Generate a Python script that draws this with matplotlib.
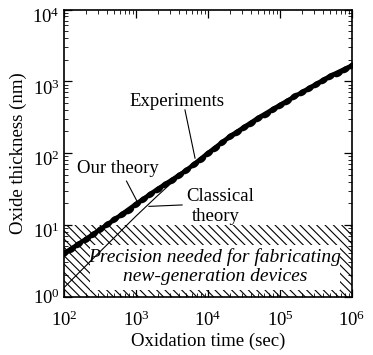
import matplotlib
matplotlib.use('Agg')
import matplotlib.pyplot as plt
from matplotlib.patches import Rectangle
from matplotlib.ticker import LogLocator, NullFormatter
from matplotlib.markers import MarkerStyle
from matplotlib.transforms import Affine2D, ScaledTranslation

# ---- data ----
theory_time = [100, 200, 300, 500, 1000, 2000, 3000, 5000, 1e4, 2e4, 5e4, 1e5, 2e5, 5e5, 1e6]
theory_thick = [4.0, 6.3, 8.3, 11.8, 19.5, 31.6, 41, 57.5, 100, 170, 310, 468, 700, 1190, 1660]

classical_time = [100, 300, 1000, 2000, 3000, 5000, 1e4, 1e5, 1e6]
classical_thick = [1.33, 4.0, 13.2, 25.5, 37, 56, 98, 465, 1650]

exp_time = [100, 126, 158, 200, 251, 316, 398, 501, 631, 794,
            1000, 1259, 1585, 1995, 2512, 3162, 3981, 5012, 6310, 7943,
            1e4, 12589, 15849, 19953, 25119, 31623, 39811, 50119, 63096, 79433,
            1e5, 125893, 158489, 199526, 251189, 316228, 398107, 501187, 630957, 794328,
            1e6]
exp_thick = [3.98, 4.65, 5.42, 6.32, 7.38, 8.65, 10.1, 11.9, 13.9, 16.3,
             19.5, 22.9, 26.9, 31.6, 36.7, 42.7, 49.5, 57.5, 69.2, 83.2,
             100, 119, 142, 170, 197, 229, 266, 309, 355, 407,
             468, 537, 617, 708, 804, 912, 1035, 1175, 1318, 1479,
             1660]

band_low, band_high = 1, 10
x_limits = (1e2, 1e6)
y_limits = (1e0, 1e4)

plt.rcParams['font.family'] = ['Liberation Serif', 'DejaVu Serif']
plt.rcParams['mathtext.fontset'] = 'custom'
plt.rcParams['mathtext.rm'] = 'Liberation Serif'
plt.rcParams['mathtext.it'] = 'Liberation Serif:italic'
plt.rcParams['hatch.linewidth'] = 0.8

fig = plt.figure(figsize=(3.73, 3.55), dpi=100)
ax = fig.add_axes([64 / 373, 58.5 / 355, 288 / 373, 287 / 355])
ax.set_xscale('log')
ax.set_yscale('log')
ax.set_xlim(*x_limits)
ax.set_ylim(*y_limits)

# hatched precision band
ax.add_patch(Rectangle((x_limits[0], band_low), x_limits[1] - x_limits[0], band_high - band_low,
                       facecolor='white', edgecolor='black', hatch='\\\\\\\\', lw=0, zorder=1))
# white box for text
ax.add_patch(Rectangle((0.09, 0.023), 0.868, 0.156, transform=ax.transAxes,
                       facecolor='white', edgecolor='none', zorder=2))

ax.plot(classical_time, classical_thick, color='black', lw=0.8, zorder=3)
ax.plot(theory_time, theory_thick, color='black', lw=3.1, zorder=4)
oval = MarkerStyle('o', transform=Affine2D().scale(1.7, 1.0).rotate_deg(33))
ax.plot(exp_time, exp_thick, linestyle='none', marker=oval, color='black', ms=4.4, mew=0, zorder=5)

# annotations (axes fraction coordinates)
ax.text(0.391, 0.68, 'Experiments', transform=ax.transAxes, ha='center', va='center', fontsize=13.5, zorder=6)
ax.plot([0.420, 0.455], [0.650, 0.482], transform=ax.transAxes, color='black', lw=0.8, zorder=6)

ax.text(0.187, 0.447, 'Our theory', transform=ax.transAxes, ha='center', va='center', fontsize=13.5, zorder=6)
ax.plot([0.217, 0.253], [0.402, 0.333], transform=ax.transAxes, color='black', lw=0.8, zorder=6)

ax.text(0.542, 0.348, 'Classical', transform=ax.transAxes, ha='center', va='center', fontsize=13.5, zorder=6)
ax.text(0.528, 0.278, 'theory', transform=ax.transAxes, ha='center', va='center', fontsize=13.5, zorder=6)
ax.plot([0.410, 0.295], [0.319, 0.314], transform=ax.transAxes, color='black', lw=0.8, zorder=6)

ax.text(0.524, 0.138, 'Precision needed for fabricating', transform=ax.transAxes, ha='center', va='center',
        fontsize=14, style='italic', zorder=6)
ax.text(0.524, 0.068, 'new-generation devices', transform=ax.transAxes, ha='center', va='center',
        fontsize=14, style='italic', zorder=6)

ax.set_xlabel('Oxidation time (sec)', fontsize=13.5, labelpad=2)
ax.set_ylabel('Oxide thickness (nm)', fontsize=13.5, labelpad=4)

ax.xaxis.set_major_locator(LogLocator(base=10, numticks=10))
ax.yaxis.set_major_locator(LogLocator(base=10, numticks=10))
ax.xaxis.set_minor_locator(LogLocator(base=10, subs=range(2, 10), numticks=20))
ax.yaxis.set_minor_locator(LogLocator(base=10, subs=range(2, 10), numticks=20))
ax.xaxis.set_minor_formatter(NullFormatter())
ax.yaxis.set_minor_formatter(NullFormatter())

ax.tick_params(which='both', direction='in', top=True, right=True)
ax.tick_params(which='major', length=6, width=0.9, labelsize=13.5)
ax.tick_params(axis='x', which='major', pad=10)
ax.tick_params(axis='y', which='major', pad=3)
ax.tick_params(which='minor', length=3, width=0.6)
for s in ax.spines.values():
    s.set_linewidth(1.2)

# y tick labels sit slightly below their ticks in the reference (except the bottom one)
shift = ScaledTranslation(0, -4 / 72, fig.dpi_scale_trans)
ylocs = ax.yaxis.get_majorticklocs()
for loc, tk in zip(ylocs, ax.yaxis.get_major_ticks(len(ylocs))):
    if loc > 1.5:
        tk.label1.set_transform(tk.label1.get_transform() + shift)

fig.savefig('out.png', dpi=100)
